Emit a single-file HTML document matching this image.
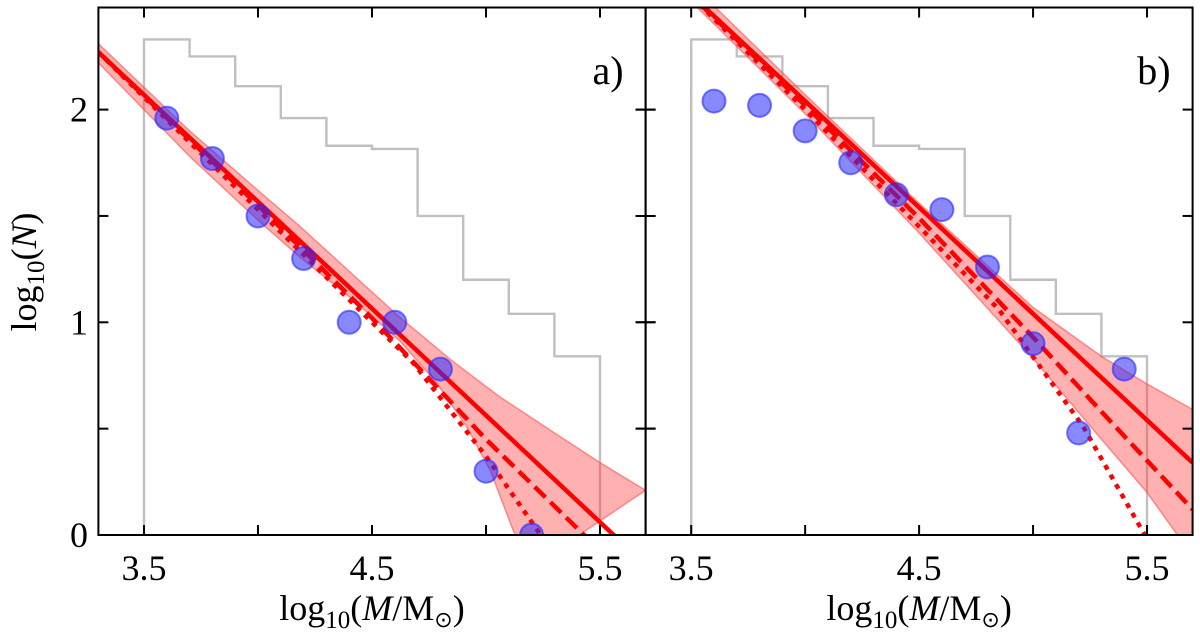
<!DOCTYPE html>
<html><head><meta charset="utf-8"><style>
html,body{margin:0;padding:0;background:#fff;}
svg{display:block;font-family:"Liberation Serif",serif;}
</style></head><body>
<svg id="chart" width="1200" height="639" viewBox="0 0 1200 639" xmlns="http://www.w3.org/2000/svg"></svg>
<script>
// shared axis data
const xTicks=[3.5,4.0,4.5,5.0,5.5];
const xTickLabels=["3.5","","4.5","","5.5"];
const yTicks=[0,0.5,1,1.5,2];
const yTickLabels=["0","","1","","2"];
const histEdges=[3.5,3.7,3.9,4.1,4.3,4.5,4.7,4.9,5.1,5.3,5.5];
const histValues=[2.33,2.25,2.11,1.96,1.83,1.815,1.50,1.20,1.04,0.84];
// panel a
const aPointsX=[3.6,3.8,4.0,4.2,4.4,4.6,4.8,5.0,5.2];
const aPointsY=[1.96,1.77,1.50,1.30,1.00,1.00,0.78,0.30,0.0];
const aSolidX=[3.3,5.56,5.7];
const aSolidY=[2.27,0,-0.14];
const aDashX=[3.3,4.0,4.5,5.0,5.43,5.5];
const aDashY=[2.27,1.55,1.02,0.45,0,-0.08];
const aDotX=[3.3,4.0,4.5,4.68,5.0,5.24,5.3];
const aDotY=[2.27,1.53,1.0,0.81,0.37,0,-0.1];
const aBandUpX=[3.3,3.7,4.0,4.18,4.4,4.62,4.85,5.06,5.3,5.5,5.7];
const aBandUpY=[2.31,1.90,1.62,1.455,1.24,1.025,0.82,0.65,0.48,0.34,0.21];
const aBandLoX=[3.3,3.7,4.0,4.18,4.4,4.62,4.78,4.915,5.02,5.12,5.2];
const aBandLoY=[2.22,1.78,1.48,1.31,1.12,0.915,0.72,0.51,0.30,0.02,-0.15];
// panel b
const bPointsX=[3.6,3.8,4.0,4.2,4.4,4.6,4.8,5.0,5.2,5.4];
const bPointsY=[2.04,2.02,1.90,1.75,1.60,1.53,1.26,0.90,0.48,0.78];
const bSolidX=[3.3,5.7];
const bSolidY=[2.74,0.34];
const bDashX=[3.4,4.0,4.5,5.0,5.3,5.7];
const bDashY=[2.64,2.02,1.49,0.93,0.58,0.12];
const bDotX=[3.4,4.0,4.5,4.85,5.22,5.49,5.52];
const bDotY=[2.64,2.0,1.45,1.06,0.51,0,-0.06];
const bBandUpX=[3.3,4.0,4.5,5.0,5.3,5.5,5.7];
const bBandUpY=[2.80,2.07,1.56,1.07,0.84,0.71,0.59];
const bBandLoX=[3.3,4.0,4.5,5.0,5.3,5.5,5.7];
const bBandLoY=[2.72,1.98,1.42,0.83,0.45,0.2,-0.1];

const NS="http://www.w3.org/2000/svg";
const svg=document.getElementById('chart');
const X0=3.3,X1=5.7,Y0=0,Y1=2.48;
const TOP=7.5,BOT=535;
function mk(tag,attrs,parent){const e=document.createElementNS(NS,tag);for(const k in attrs)e.setAttribute(k,attrs[k]);(parent||svg).appendChild(e);return e;}

function panel(px0,px1,d,id){
  const sx=v=>px0+(v-X0)/(X1-X0)*(px1-px0);
  const sy=v=>BOT-(v-Y0)/(Y1-Y0)*(BOT-TOP);
  const g=mk('g',{});
  
  
  const clipId='clip'+id;
  const cp=mk('clipPath',{id:clipId},g);
  mk('rect',{x:px0,y:TOP,width:px1-px0,height:BOT-TOP},cp);
  const pg=mk('g',{'clip-path':'url(#'+clipId+')'},g);
  let hp='M'+sx(histEdges[0])+','+sy(0);
  for(let i=0;i<histValues.length;i++){hp+=' L'+sx(histEdges[i])+','+sy(histValues[i])+' L'+sx(histEdges[i+1])+','+sy(histValues[i]);}
  hp+=' L'+sx(histEdges[histEdges.length-1])+','+sy(0);
  const h=mk('path',{d:hp,fill:'none',stroke:'#c0c0c0','stroke-width':2.4},pg);
  
  
  let bp='';
  d.bux.forEach((v,i)=>{bp+=(i?' L':'M')+sx(v)+','+sy(d.buy[i]);});
  for(let i=d.blx.length-1;i>=0;i--){bp+=' L'+sx(d.blx[i])+','+sy(d.bly[i]);}
  bp+=' Z';
  const b=mk('path',{d:bp,fill:'rgba(255,60,60,0.4)',stroke:'rgba(255,80,80,0.6)','stroke-width':1.5,'stroke-linejoin':'round'},pg);
  
  
  function line(xs,ys,dash,name){
    let p='';xs.forEach((v,i)=>{p+=(i?' L':'M')+sx(v)+','+sy(ys[i]);});
    const l=mk('path',{d:p,fill:'none',stroke:'#ff0000','stroke-width':4.5},pg);
    if(dash)l.setAttribute('stroke-dasharray',dash);
    
    
  }
  line(d.sx,d.sy,null,'fit-solid-'+id);
  line(d.dx,d.dy,'15,7','fit-dashed-'+id);
  line(d.ox,d.oy,'5,6','fit-dotted-'+id);
  d.px.forEach((v,i)=>{
    const c=mk('circle',{cx:sx(v),cy:sy(d.py[i]),r:11.5,fill:'rgba(40,40,255,0.55)',stroke:'rgba(40,40,255,0.6)','stroke-width':2},pg);
    
    
  });
  const f=mk('rect',{x:px0,y:TOP,width:px1-px0,height:BOT-TOP,fill:'none',stroke:'#000','stroke-width':2},g);
  
  
  xTicks.forEach((v,i)=>{
    mk('line',{x1:sx(v),x2:sx(v),y1:BOT,y2:BOT-10,stroke:'#000','stroke-width':2},g);
    mk('line',{x1:sx(v),x2:sx(v),y1:TOP,y2:TOP+10,stroke:'#000','stroke-width':2},g);
    if(xTickLabels[i]){const t=mk('text',{x:sx(v),y:580,'font-size':36,'text-anchor':'middle'},g);t.textContent=xTickLabels[i];
      }
  });
  yTicks.forEach((v,i)=>{
    mk('line',{x1:px0-(id==='b'?10:0),x2:px0+10,y1:sy(v),y2:sy(v),stroke:'#000','stroke-width':2},g);
    mk('line',{x1:px1-10,x2:px1+(id==='a'?10:0),y1:sy(v),y2:sy(v),stroke:'#000','stroke-width':2},g);
    if(id==='a'&&yTickLabels[i]){const t=mk('text',{x:88,y:sy(v)+12,'font-size':36,'text-anchor':'end'},g);t.textContent=yTickLabels[i];
      }
  });
  const xl=mk('text',{x:(px0+px1)/2,y:620,'font-size':36,'text-anchor':'middle'},g);
  xl.innerHTML='log<tspan font-size="25" dy="8">10</tspan><tspan dy="-8">(</tspan><tspan font-style="italic">M</tspan>/M<tspan font-size="22" dy="7">⊙</tspan><tspan dy="-7">)</tspan>';
  
  
  const pl=mk('text',{x:px1-22,y:84,'font-size':40,'text-anchor':'end'},g);
  pl.textContent=id+')';
  
  
}
panel(98.4,645.6,{px:aPointsX,py:aPointsY,sx:aSolidX,sy:aSolidY,dx:aDashX,dy:aDashY,ox:aDotX,oy:aDotY,bux:aBandUpX,buy:aBandUpY,blx:aBandLoX,bly:aBandLoY},'a');
panel(645.6,1192.6,{px:bPointsX,py:bPointsY,sx:bSolidX,sy:bSolidY,dx:bDashX,dy:bDashY,ox:bDotX,oy:bDotY,bux:bBandUpX,buy:bBandUpY,blx:bBandLoX,bly:bBandLoY},'b');
const yl=mk('text',{x:0,y:0,'font-size':36,'text-anchor':'middle',transform:'translate(36,272) rotate(-90)'});
yl.innerHTML='log<tspan font-size="25" dy="8">10</tspan><tspan dy="-8">(</tspan><tspan font-style="italic">N</tspan>)';


</script>
</body></html>
